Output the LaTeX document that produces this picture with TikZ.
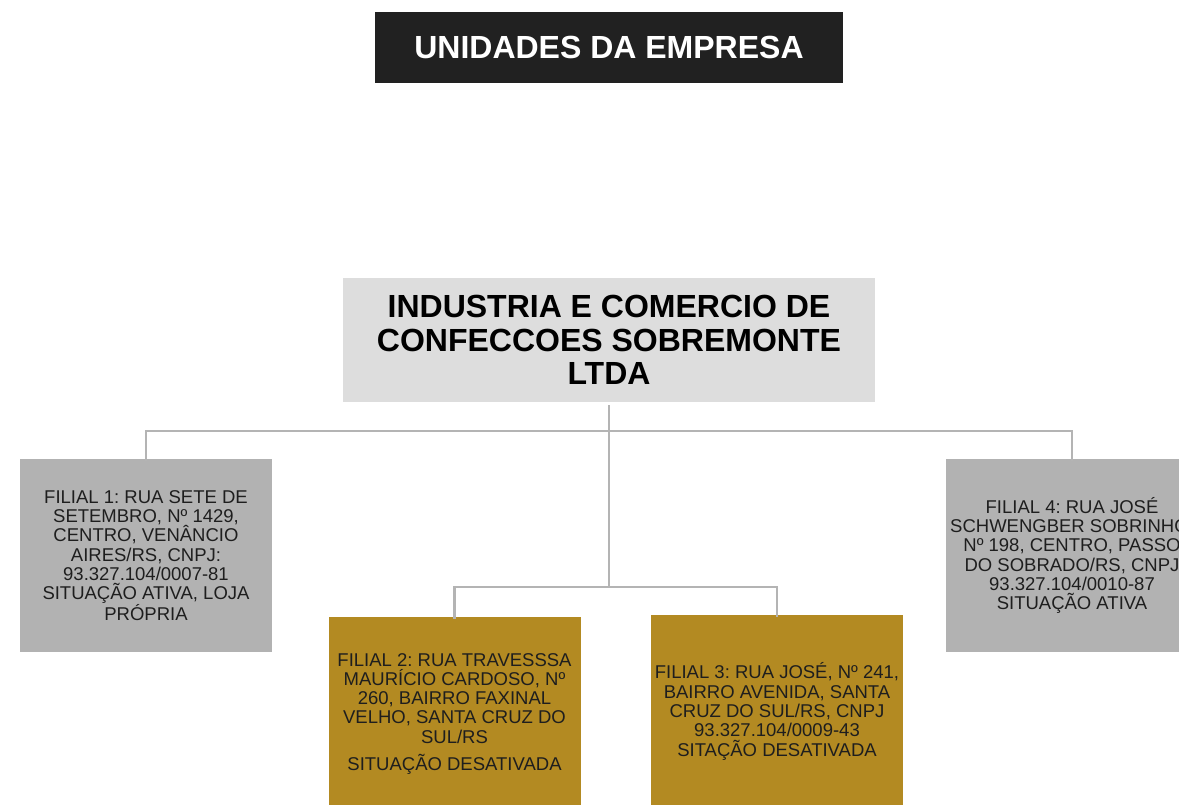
\documentclass[tikz,border=0pt]{standalone}
\usepackage{fontspec}
\setmainfont{Liberation Sans}
\frenchspacing
\definecolor{hdr}{HTML}{212121}
\definecolor{mainbg}{HTML}{DDDDDD}
\definecolor{graybox}{HTML}{B2B2B2}
\definecolor{goldbox}{HTML}{B38A22}
\definecolor{connc}{HTML}{B4B4B4}
\definecolor{txt}{HTML}{1E1E1E}
\tikzset{
  unitbox/.style={draw=none, inner sep=0pt, align=center, minimum width=252pt, minimum height=193pt,
    text=txt, font=\fontsize{18.5}{19.3}\selectfont\frenchspacing},
  grayunit/.style={unitbox, fill=graybox},
  goldunit/.style={unitbox, fill=goldbox},
  conn/.style={draw=connc, line width=2.8pt}
}
\begin{document}
\begin{tikzpicture}[x=1pt,y=1pt]
\useasboundingbox (0,0) rectangle (1179,-804);
\clip (0,0) rectangle (1179,-804);
\fill[white] (0,0) rectangle (1179,-804);
\node[fill=hdr, text=white, minimum width=468pt, minimum height=71pt, inner sep=0pt,
  font=\fontsize{32}{34}\selectfont\bfseries] (title) at (609,-47.5) {UNIDADES DA EMPRESA};
\node[fill=mainbg, text=black, minimum width=532pt, minimum height=124pt, inner sep=0pt, align=center,
  font=\fontsize{32}{33.5}\selectfont\bfseries] (main) at (609,-340)
  {INDUSTRIA E COMERCIO DE\\CONFECCOES SOBREMONTE\\LTDA};
\node[grayunit] (f1) at (146,-555.5) {FILIAL 1: RUA SETE DE\\SETEMBRO, Nº 1429,\\CENTRO, VENÂNCIO\\AIRES/RS, CNPJ:\\93.327.104/0007-81\\SITUAÇÃO ATIVA, LOJA\\PRÓPRIA};
\node[grayunit] (f4) at (1072,-555.5) {FILIAL 4: RUA JOSÉ\\SCHWENGBER SOBRINHO,\\Nº 198, CENTRO, PASSO\\DO SOBRADO/RS, CNPJ\\93.327.104/0010-87\\SITUAÇÃO ATIVA};
\node[goldunit] (f2) at (454.5,-713.5) {FILIAL 2: RUA TRAVESSSA\\MAURÍCIO CARDOSO, Nº\\260, BAIRRO FAXINAL\\VELHO, SANTA CRUZ DO\\SUL/RS\\[7.5pt]SITUAÇÃO DESATIVADA};
\node[goldunit] (f3) at (777,-711.5) {FILIAL 3: RUA JOSÉ, Nº 241,\\BAIRRO AVENIDA, SANTA\\CRUZ DO SUL/RS, CNPJ\\93.327.104/0009-43\\SITAÇÃO DESATIVADA};
\coordinate (bus1) at (609,-431);
\coordinate (bus2) at (609,-587);
\draw[conn] ([yshift=-2pt]f1.north) |- (bus1) -| ([yshift=-2pt]f4.north);
\draw[conn] ([yshift=-2pt]f2.north) |- (bus2) -| ([yshift=-2pt]f3.north);
\draw[conn] ([yshift=-3pt]main.south) -- (bus2);
\end{tikzpicture}
\end{document}
